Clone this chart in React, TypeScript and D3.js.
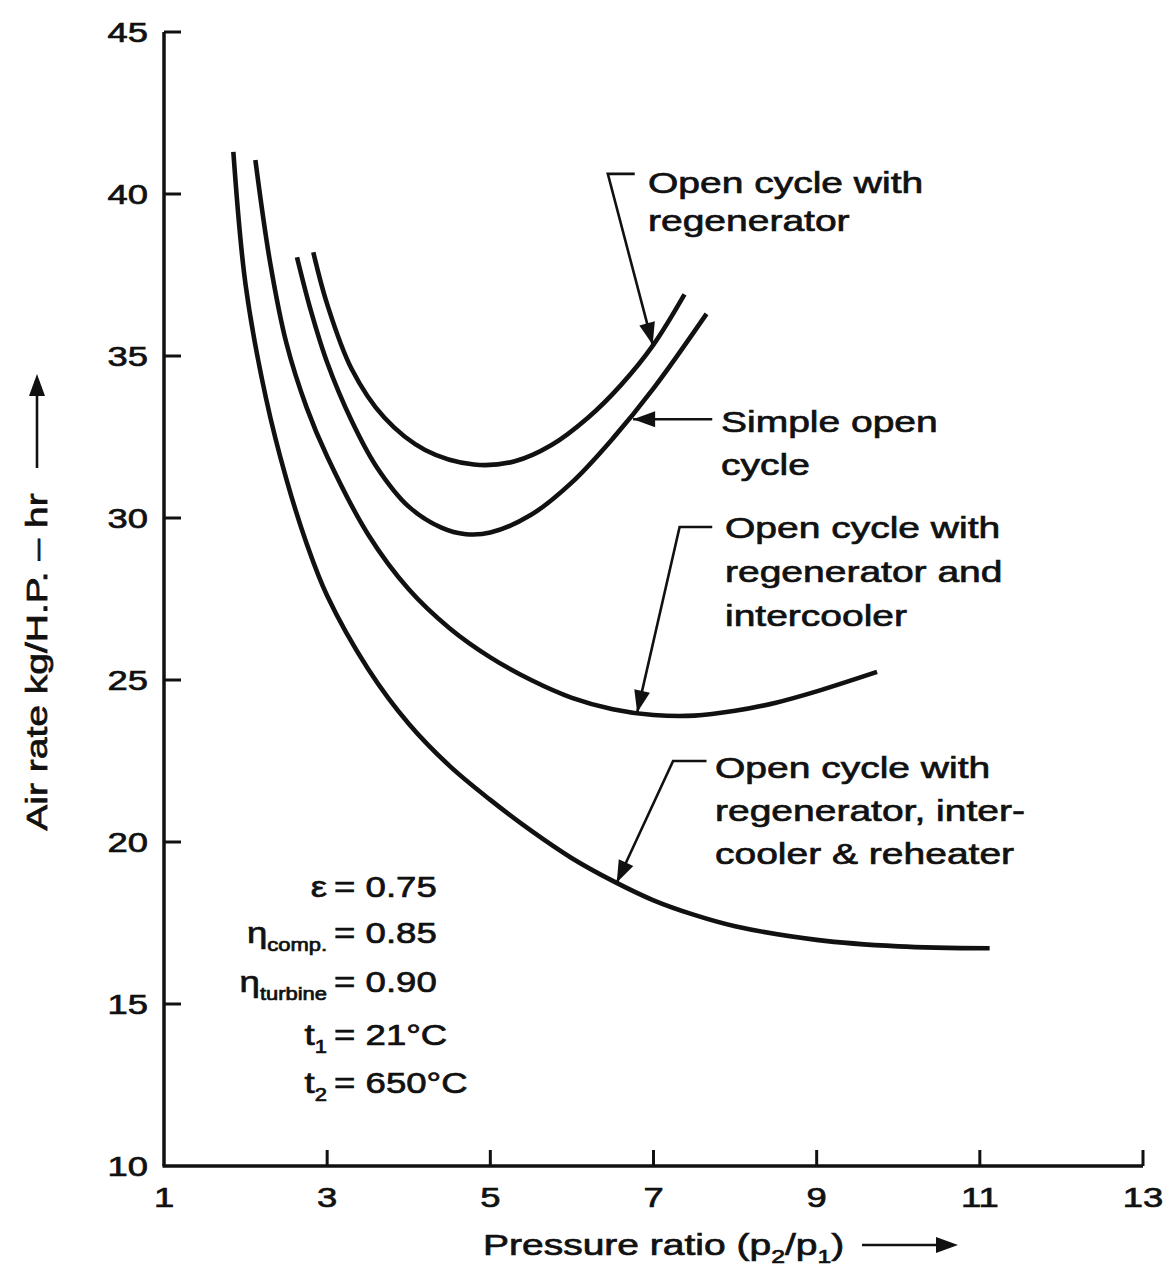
import React from "react";
import * as d3 from "d3";

const X_TICKS = [1, 3, 5, 7, 9, 11, 13];
const Y_TICKS = [10, 15, 20, 25, 30, 35, 40, 45];

// Open cycle with regenerator
const regenX = [2.83, 3.0, 3.3, 3.7, 4.2, 4.8, 5.3, 5.75, 6.2, 6.6, 7.0, 7.38];
const regenY = [38.2, 36.6, 34.6, 33.1, 32.1, 31.65, 31.75, 32.25, 33.1, 34.1, 35.35, 36.9];

// Simple open cycle
const simpleX = [2.63, 2.8, 3.0, 3.3, 3.6, 4.0, 4.4, 4.7, 5.0, 5.5, 6.0, 6.5, 7.0, 7.65];
const simpleY = [38.05, 36.4, 34.8, 33.0, 31.6, 30.35, 29.7, 29.5, 29.55, 30.1, 31.1, 32.45, 34.0, 36.3];

// Open cycle with regenerator and intercooler
const interX = [2.12, 2.3, 2.5, 2.75, 3.0, 3.5, 4.0, 4.5, 5.0, 5.5, 6.0, 6.5, 7.0, 7.5, 8.0, 8.5, 9.0, 9.74];
const interY = [41.05, 37.9, 35.4, 33.4, 31.9, 29.5, 27.8, 26.6, 25.7, 25.0, 24.45, 24.1, 23.92, 23.9, 24.05, 24.3, 24.65, 25.25];

// Open cycle with regenerator, intercooler & reheater
const reheatX = [1.85, 2.0, 2.25, 2.5, 2.75, 3.0, 3.5, 4.0, 4.5, 5.0, 5.5, 6.0, 6.5, 7.0, 7.5, 8.0, 9.0, 10.0, 11.12];
const reheatY = [41.3, 37.2, 33.7, 31.2, 29.2, 27.6, 25.35, 23.65, 22.35, 21.3, 20.35, 19.5, 18.8, 18.2, 17.75, 17.4, 16.98, 16.78, 16.72];

const SERIES = [
  { xs: regenX, ys: regenY },
  { xs: simpleX, ys: simpleY },
  { xs: interX, ys: interY },
  { xs: reheatX, ys: reheatY },
];

// Leader lines in data units (last point is arrow tip)
const LEADERS: [number, number][][] = [
  [[6.77, 40.62], [6.44, 40.62], [6.99, 35.35]],
  [[7.72, 33.05], [6.75, 33.05]],
  [[7.72, 29.72], [7.32, 29.72], [6.8, 24.0]],
  [[7.65, 22.5], [7.24, 22.5], [6.55, 18.75]],
];

const LABELS = [
  { x: 648, y: 193, lines: ["Open cycle with", "regenerator"], gap: 38 },
  { x: 721, y: 432, lines: ["Simple open", "cycle"], gap: 43 },
  { x: 725, y: 538, lines: ["Open cycle with", "regenerator and", "intercooler"], gap: 44 },
  { x: 715, y: 778, lines: ["Open cycle with", "regenerator, inter-", "cooler & reheater"], gap: 43 },
];

const FONT = "'Liberation Sans', Arial, Helvetica, sans-serif";
const SX = 1.3;

function T(props: any) {
  const { x, y, anchor = "start", size = 30, rotate, sx = SX, children } = props;
  const tr = `translate(${x},${y})${rotate ? ` rotate(${rotate})` : ""} scale(${sx},1)`;
  return (
    <text transform={tr} textAnchor={anchor} fontSize={size} fontFamily={FONT} fill="#111" stroke="#111" strokeWidth={0.7}>
      {children}
    </text>
  );
}

function Arrowhead({ from, to, len = 22, half = 8 }: any) {
  const dx = to[0] - from[0];
  const dy = to[1] - from[1];
  const d = Math.hypot(dx, dy);
  const ux = dx / d, uy = dy / d;
  const bx = to[0] - ux * len, by = to[1] - uy * len;
  const pts = [
    [to[0], to[1]],
    [bx - uy * half, by + ux * half],
    [bx + uy * half, by - ux * half],
  ];
  return <polygon points={pts.map((p) => p.join(",")).join(" ")} fill="#111" />;
}

export default function App() {
  const W = 1166, H = 1266;
  const x = d3.scaleLinear().domain([1, 13]).range([164, 1143]);
  const y = d3.scaleLinear().domain([10, 45]).range([1166, 32]);
  const line = d3
    .line<[number, number]>()
    .x((d) => x(d[0]))
    .y((d) => y(d[1]))
    .curve(d3.curveCatmullRom.alpha(0.5));
  const straight = d3.line<[number, number]>().x((d) => x(d[0])).y((d) => y(d[1]));

  const params = [
    { left: <tspan>ε</tspan>, right: "= 0.75", y: 897 },
    { left: <><tspan>η</tspan><tspan fontSize={18} dy={8}>comp.</tspan></>, right: "= 0.85", y: 943 },
    { left: <><tspan>η</tspan><tspan fontSize={18} dy={8}>turbine</tspan></>, right: "= 0.90", y: 992 },
    { left: <><tspan>t</tspan><tspan fontSize={18} dy={8}>1</tspan></>, right: "= 21°C", y: 1045 },
    { left: <><tspan>t</tspan><tspan fontSize={18} dy={8}>2</tspan></>, right: "= 650°C", y: 1093 },
  ];

  return (
    <svg width={W} height={H} style={{ position: "absolute", left: 0, top: 0, background: "#fff" }}>
      <rect width={W} height={H} fill="#fff" />
      {/* axes */}
      <line x1={x(1)} x2={x(1)} y1={y(45)} y2={y(10)} stroke="#111" strokeWidth={3.5} />
      <line x1={x(1) - 1.5} x2={x(13)} y1={y(10)} y2={y(10)} stroke="#111" strokeWidth={3.5} />
      {Y_TICKS.map((t) => (
        <g key={"y" + t}>
          {t !== 10 && <line x1={x(1)} x2={x(1) + 17} y1={y(t)} y2={y(t)} stroke="#111" strokeWidth={3} />}
          <T x={148} y={y(t) + 10} anchor="end" size={28}>{t}</T>
        </g>
      ))}
      {X_TICKS.map((t) => (
        <g key={"x" + t}>
          {t !== 1 && <line x1={x(t)} x2={x(t)} y1={y(10)} y2={y(10) - 16} stroke="#111" strokeWidth={3} />}
          <T x={x(t)} y={1207} anchor="middle" size={28}>{t}</T>
        </g>
      ))}

      {/* curves */}
      {SERIES.map((s, i) => (
        <path
          key={i}
          d={line(s.xs.map((v, j) => [v, s.ys[j]] as [number, number])) || ""}
          fill="none"
          stroke="#111"
          strokeWidth={4.6}
        />
      ))}

      {/* leaders */}
      {LEADERS.map((pts, i) => {
        const n = pts.length;
        const tip = [x(pts[n - 1][0]), y(pts[n - 1][1])];
        const prev = [x(pts[n - 2][0]), y(pts[n - 2][1])];
        return (
          <g key={"l" + i}>
            <path d={straight(pts) || ""} fill="none" stroke="#111" strokeWidth={2.6} />
            <Arrowhead from={prev} to={tip} />
          </g>
        );
      })}

      {/* labels */}
      {LABELS.map((l, i) => (
        <g key={"lab" + i}>
          {l.lines.map((s, j) => (
            <T key={j} x={l.x} y={l.y + j * l.gap} size={30}>{s}</T>
          ))}
        </g>
      ))}

      {/* parameters */}
      {params.map((p, i) => (
        <g key={"p" + i}>
          <T x={327} y={p.y} anchor="end" size={30} sx={1.22}>{p.left}</T>
          <T x={334} y={p.y} anchor="start" size={30} sx={1.22}>{p.right}</T>
        </g>
      ))}

      {/* x title */}
      <T x={483} y={1255} size={30}>
        Pressure ratio (p<tspan fontSize={19} dy={8}>2</tspan><tspan dy={-8}>/p</tspan><tspan fontSize={19} dy={8}>1</tspan><tspan dy={-8}>)</tspan>
      </T>
      <line x1={862} x2={940} y1={1245} y2={1245} stroke="#111" strokeWidth={2.6} />
      <Arrowhead from={[862, 1245]} to={[958, 1245]} len={22} half={8} />

      {/* y title */}
      <T x={47} y={662} anchor="middle" rotate={-90} size={30}>Air rate kg/H.P. – hr</T>
      <line x1={37} x2={37} y1={468} y2={392} stroke="#111" strokeWidth={2.6} />
      <Arrowhead from={[37, 468]} to={[37, 374]} len={22} half={8} />
    </svg>
  );
}
